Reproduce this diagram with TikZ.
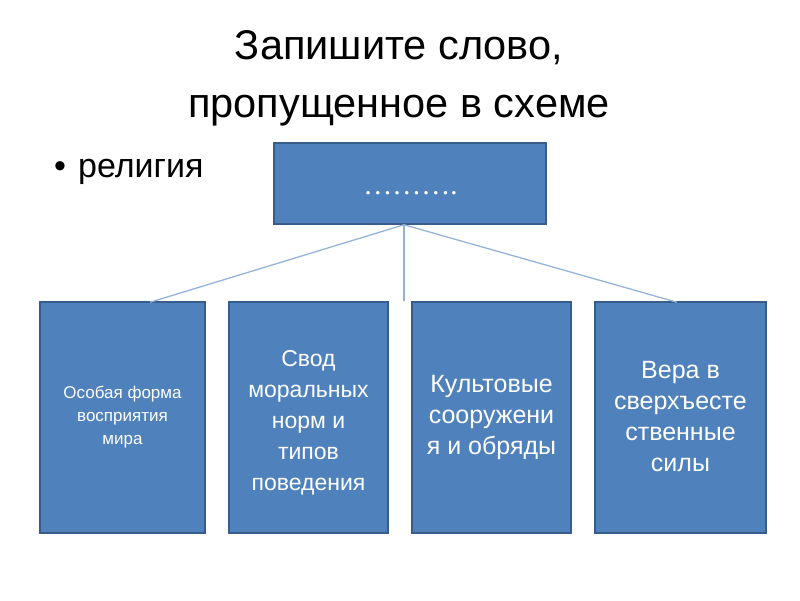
\documentclass[tikz,border=0pt]{standalone}
\usepackage{fontspec}
\setmainfont{Liberation Sans}
\newfontfamily\dotsfont{Liberation Serif}
\definecolor{boxblue}{HTML}{4F81BD}
\definecolor{boxedge}{HTML}{385D8A}
\definecolor{linkblue}{HTML}{95B3D7}

\begin{document}
\begin{tikzpicture}[x=1pt,y=-1pt,
        block/.style={draw=boxedge,fill=boxblue,line width=1.5pt,inner sep=0pt},
        blocktext/.style={text=white,align=center,inner sep=0pt,font=\fontsize{25}{31}\selectfont},
        link/.style={draw=linkblue,line width=1.3pt}]
            \useasboundingbox (0,0) rectangle (800,600);

            % title and bullet
            \node[anchor=base] (title1) at (399,59) {\fontsize{41.5}{58}\selectfont Запишите слово,};
            \node[anchor=base] (title2) at (399,117) {\fontsize{41.5}{58}\selectfont пропущенное в схеме};
            \node[anchor=base] (bullet) at (60,177) {\fontsize{34}{40}\selectfont •};
            \node[anchor=base west,inner sep=0pt] (answer) at (78,177) {\fontsize{34}{40}\selectfont религия};

            % boxes
            \node[block,minimum width=272pt,minimum height=81pt] (top) at (410,183.5) {};
            \node[block,minimum width=165pt,minimum height=231pt] (b1) at (122.5,417.5) {};
            \node[block,minimum width=159pt,minimum height=231pt] (b2) at (308.5,417.5) {};
            \node[block,minimum width=159pt,minimum height=231pt] (b3) at (491.5,417.5) {};
            \node[block,minimum width=171pt,minimum height=231pt] (b4) at (680.5,417.5) {};

            \node[anchor=base,text=white,inner sep=0pt] (blank) at (410.5,194) {\dotsfont\fontsize{29}{34}\selectfont ……….};
            \node[blocktext,font=\fontsize{17}{23}\selectfont] (t1) at (b1.center) {Особая форма\\восприятия\\мира};
            \node[blocktext,font=\fontsize{23}{31}\selectfont] (t2) at ([yshift=-5.5pt]b2.center) {Свод\\моральных\\норм и\\типов\\поведения};
            \node[blocktext] (t3) at (b3.center) {Культовые\\сооружени\\я и обряды};
            \node[blocktext] (t4) at ([yshift=1pt]b4.center) {Вера в\\сверхъесте\\ственные\\силы};

            % connectors
            \coordinate (hub) at ([xshift=-6pt]top.south);
            \coordinate (gap) at (404,301);
            \draw[link] (hub) -- ([xshift=27.5pt,yshift=-1pt]b1.north);
            \draw[link] (hub) -- (gap);
            \draw[link] (hub) -- ([xshift=-3.5pt,yshift=-1pt]b4.north);
        \end{tikzpicture}
\end{document}
